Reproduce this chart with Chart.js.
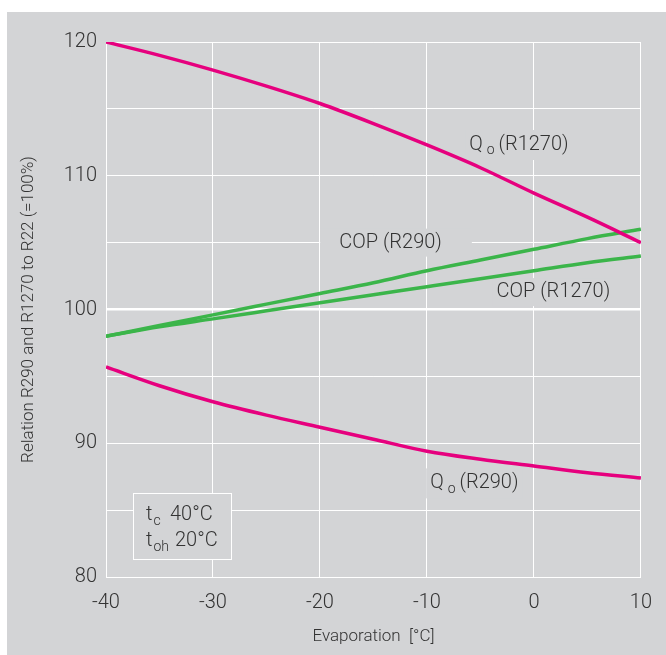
<!DOCTYPE html>
<html>
<head>
<meta charset="utf-8">
<script src="https://cdn.jsdelivr.net/npm/chart.js@4/dist/chart.umd.min.js"></script>
<style>
  html, body { margin: 0; padding: 0; background: #ffffff; }
  #wrap { position: absolute; left: 7px; top: 12px; width: 659px; height: 643px; background: #d3d4d6; }
</style>
</head>
<body>
<div id="wrap"><canvas id="chart"></canvas></div>
<script>
// ---- data ----
const evap = [-40, -35, -30, -25, -20, -15, -10, -5, 0, 5, 10];
const qoR1270 = [120, 119.0, 117.9, 116.7, 115.4, 113.9, 112.3, 110.6, 108.7, 106.9, 105.0];
const qoR290 = [95.7, 94.3, 93.1, 92.1, 91.2, 90.3, 89.4, 88.8, 88.3, 87.8, 87.4];
const copR290 = [98.0, 98.8, 99.6, 100.4, 101.2, 102.0, 102.9, 103.7, 104.5, 105.3, 106.0];
const copR1270 = [98.0, 98.7, 99.3, 99.9, 100.5, 101.1, 101.7, 102.3, 102.9, 103.5, 104.0];
const xTicks = [-40, -30, -20, -10, 0, 10];
const yLabelTicks = [80, 90, 100, 110, 120];

const BG = '#d3d4d6';
const TXT = '#333333';
const MAGENTA = '#e6007e';
const GREEN = '#3bb54a';
const FONT = 'Roboto, "Liberation Sans", sans-serif';
const W = '300 ';

const pts = (ys) => evap.map((x, i) => ({ x: x, y: ys[i] }));

// text parts: [string, isSubscript]; gap = space after each part
function drawRich(ctx, parts, x, y, size, gap) {
  let cx = x;
  parts.forEach(([s, sub]) => {
    ctx.font = W + (sub ? Math.round(size * 0.68) : size) + 'px ' + FONT;
    ctx.fillText(s, cx, sub ? y + size * 0.3 : y);
    cx += ctx.measureText(s).width + gap;
  });
  return cx - x;
}

function label(ctx, chart, parts, xv, yv, padL, padR, padV) {
  const x = chart.scales.x.getPixelForValue(xv);
  const y = chart.scales.y.getPixelForValue(yv);
  ctx.save();
  ctx.globalAlpha = 0;
  const w = drawRich(ctx, parts, x, y, 20, 4);
  ctx.globalAlpha = 1;
  ctx.fillStyle = BG;
  ctx.fillRect(x - padL, y - 11 - padV, w + padL + padR, 22 + 2 * padV);
  ctx.fillStyle = TXT;
  drawRich(ctx, parts, x, y, 20, 4);
  ctx.restore();
}

const annotations = {
  id: 'annotations',
  beforeDatasetsDraw(chart) {
    const ctx = chart.ctx;
    ctx.textBaseline = 'middle';
    ctx.textAlign = 'left';
    label(ctx, chart, [['COP (R290)', false]], -18.2, 105.0, 19, 26, 3);
    label(ctx, chart, [['COP (R1270)', false]], -3.5, 101.3, 4, 0, 3);
    label(ctx, chart, [['Q', false], ['o', true], ['(R1270)', false]], -6.05, 112.3, 4, 0, 4);
    label(ctx, chart, [['Q', false], ['o', true], ['(R290)', false]], -9.7, 87.0, 4, 0, 4);

    // condition box
    const a = chart.chartArea;
    const bx = a.left + 27, by = a.bottom - 84;
    ctx.save();
    ctx.fillStyle = BG;
    ctx.fillRect(bx, by, 98, 66);
    ctx.strokeStyle = '#ffffff';
    ctx.lineWidth = 1;
    ctx.strokeRect(bx + 0.5, by + 0.5, 98, 66);
    ctx.fillStyle = TXT;
    drawRich(ctx, [['t', false], ['c', true]], bx + 13, by + 22, 20, 1);
    ctx.font = W + '20px ' + FONT;
    ctx.fillText('40°C', bx + 37, by + 22);
    drawRich(ctx, [['t', false], ['oh', true]], bx + 13, by + 48, 20, 1);
    ctx.font = W + '20px ' + FONT;
    ctx.fillText('20°C', bx + 42, by + 48);
    ctx.restore();
  }
};

const lineSet = (data, color) => ({
  data: pts(data),
  borderColor: color,
  borderWidth: 3.5,
  pointRadius: 0,
  fill: false,
  cubicInterpolationMode: 'monotone'
});

new Chart(document.getElementById('chart'), {
  type: 'line',
  data: {
    datasets: [
      lineSet(qoR1270, MAGENTA),
      lineSet(qoR290, MAGENTA),
      lineSet(copR290, GREEN),
      lineSet(copR1270, GREEN)
    ]
  },
  options: {
    responsive: true,
    maintainAspectRatio: false,
    animation: false,
    layout: { padding: { left: 0, top: 30, right: 24, bottom: 0 } },
    plugins: { legend: { display: false }, tooltip: { enabled: false } },
    scales: {
      x: {
        type: 'linear',
        min: -40, max: 10,
        afterBuildTicks: (s) => { s.ticks = xTicks.map(v => ({ value: v })); },
        afterFit: (s) => { s.height = 78; },
        ticks: { color: TXT, font: { family: FONT, size: 20, weight: 300 }, padding: 14 },
        grid: { color: '#ffffff', lineWidth: 1, drawTicks: false },
        border: { color: '#ffffff', width: 1 },
        title: {
          display: true, text: 'Evaporation  [°C]', color: TXT,
          font: { family: FONT, size: 17, weight: 300 }, padding: { top: 0, bottom: 8 }
        }
      },
      y: {
        min: 80, max: 120,
        ticks: {
          stepSize: 5, color: TXT, font: { family: FONT, size: 20, weight: 300 }, padding: 9,
          callback: (v) => yLabelTicks.includes(v) ? v : ''
        },
        afterFit: (s) => { s.width = 99; },
        grid: {
          color: '#ffffff', drawTicks: false,
          lineWidth: (c) => (c.tick && c.tick.value === 100 ? 2.5 : 1)
        },
        border: { color: '#ffffff', width: 1 },
        title: {
          display: true, text: 'Relation R290 and R1270 to R22 (=100%)', color: TXT,
          font: { family: FONT, size: 17, weight: 300 }, padding: { top: 12, bottom: 0 }
        }
      }
    }
  },
  plugins: [annotations]
});
</script>
</body>
</html>
